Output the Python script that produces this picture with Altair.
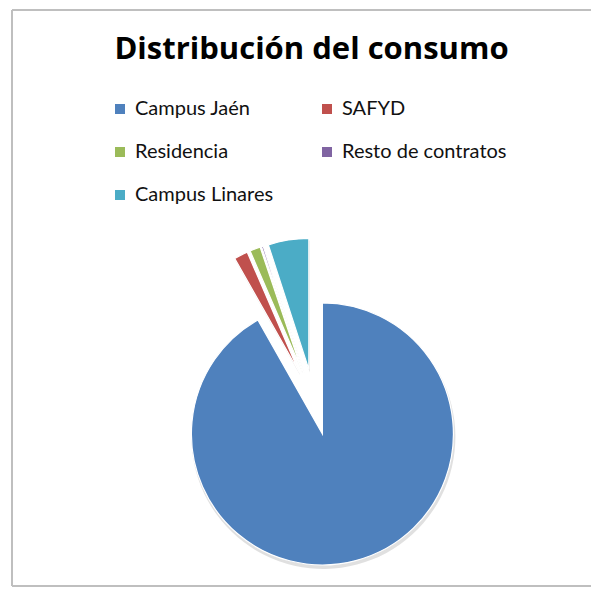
import altair as alt
import pandas as pd

categories = ["Campus Jaén", "SAFYD", "Residencia", "Resto de contratos", "Campus Linares"]
values = [91.8, 1.7, 1.3, 0.2, 5.0]
colors = ["#4F81BD", "#C0504D", "#9BBB59", "#8064A2", "#4BACC6"]
# legend is filled column by column, so this order gives the reference's row layout
legend_order = ["Campus Jaén", "Residencia", "Campus Linares", "SAFYD", "Resto de contratos"]

df = pd.DataFrame({"categoria": categories, "consumo": values, "orden": list(range(len(categories)))})

CX, CY = 302, 392
EXPLODE = 33
R = 131
W, H = 579, 577

base = (
    alt.Chart(df)
    .transform_joinaggregate(total="sum(consumo)")
    .transform_window(cum="sum(consumo)", sort=[alt.SortField("orden")], frame=[None, 0])
    .transform_calculate(
        t0="2*PI*(datum.cum - datum.consumo)/datum.total",
        t1="2*PI*datum.cum/datum.total",
    )
    .transform_calculate(mid="(datum.t0 + datum.t1)/2")
    .transform_calculate(
        px=f"{CX} + {EXPLODE}*sin(datum.mid)",
        py=f"{CY} - {EXPLODE}*cos(datum.mid)",
    )
)

shadow = base.transform_calculate(sx="datum.px + 1", sy="datum.py + 3").mark_arc(
    radius=R + 1, color="#000000", opacity=0.12
).encode(
    theta=alt.Theta("t0:Q", scale=None),
    theta2="t1:Q",
    x=alt.X("sx:Q", scale=None, axis=None),
    y=alt.Y("sy:Q", scale=None, axis=None),
)

pie = base.mark_arc(radius=R, stroke="white", strokeWidth=1.2).encode(
    theta=alt.Theta("t0:Q", scale=None),
    theta2="t1:Q",
    x=alt.X("px:Q", scale=None, axis=None),
    y=alt.Y("py:Q", scale=None, axis=None),
    color=alt.Color(
        "categoria:N",
        scale=alt.Scale(domain=categories, range=colors),
        legend=alt.Legend(
            title=None,
            values=legend_order,
            orient="none",
            legendX=98,
            legendY=89,
            columns=2,
            gridAlign="all",
            symbolType="square",
            symbolSize=100,
            symbolStrokeWidth=0,
            labelFont="Lato",
            labelFontSize=20,
            labelColor="#111111",
            labelOffset=5,
            labelLimit=400,
            rowPadding=23,
            columnPadding=17,
        ),
    ),
)

frame = alt.Chart(df).mark_rule(color="#bfbfbf", strokeWidth=2).encode(
    x=alt.value(0), y=alt.value(0), y2=alt.value(H - 1)
)
frame_top = alt.Chart(df).mark_rule(color="#bfbfbf", strokeWidth=2).encode(
    x=alt.value(0), x2=alt.value(W + 10), y=alt.value(0)
)
frame_bottom = alt.Chart(df).mark_rule(color="#bfbfbf", strokeWidth=2).encode(
    x=alt.value(0), x2=alt.value(W + 10), y=alt.value(H - 1)
)

chart = (
    alt.layer(frame, frame_top, frame_bottom, shadow, pie)
    .properties(
        width=W,
        height=H,
        padding={"left": 4, "top": 2, "right": 0, "bottom": 0},
        autosize=alt.AutoSizeParams(type="none"),
        title=alt.TitleParams(
            "Distribución del consumo",
            anchor="middle",
            offset=-57,
            dx=10,
            font="Open Sans",
            fontSize=31,
            fontWeight="bold",
            color="#000000",
        ),
    )
    .configure_view(stroke=None)
)

chart.save("out.html", embed_options={"renderer": "svg", "actions": False})
